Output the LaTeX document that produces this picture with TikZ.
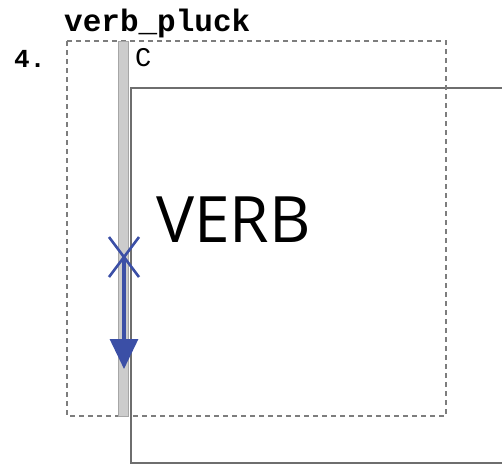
\documentclass[tikz,border=0pt]{standalone}
\usepackage{fontspec}
\setmainfont{Liberation Serif}
\newfontfamily\labelmono{Liberation Mono}
\newfontfamily\verbsans{Open Sans}
\usetikzlibrary{arrows.meta}
\definecolor{traceblue}{HTML}{3B4FA6}
\definecolor{framegray}{HTML}{6E6E6E}
\tikzset{
  regionbox/.style={draw=framegray!90, line width=1.8pt, dash pattern=on 5pt off 4pt},
  verbbox/.style={draw=framegray, line width=1.8pt},
  tracebar/.style={fill=black!20, draw=black!35, line width=0.8pt},
  tracemark/.style={draw=traceblue, line width=2.6pt},
  movearrow/.style={draw=traceblue, line width=3.2pt, -{Triangle[length=30pt,width=28pt]}},
  monolabel/.style={inner sep=0pt, font=\labelmono\bfseries},
}
\begin{document}
\begin{tikzpicture}[x=1pt,y=-1pt]
  \useasboundingbox (0,0) rectangle (502,466);
  \clip (0,0) rectangle (502,466);
  % verb phrase box running off the right edge
  \draw[verbbox] (520,88) -- (131,88) -- (131,463) -- (520,463);
  % region of the pluck operation
  \draw[regionbox] (67,41) rectangle (446,416);
  % shaded trace column
  \fill[tracebar] (118,41) rectangle (128,416);
  % labels
  \node[monolabel, font=\labelmono\bfseries\fontsize{31}{31}\selectfont, anchor=base west] (title) at (64,31) {verb\_pluck};
  \node[monolabel, font=\labelmono\bfseries\fontsize{26}{26}\selectfont, anchor=base west] (num) at (14,67) {4.};
  \node[inner sep=0pt, font=\labelmono\fontsize{27}{27}\selectfont, anchor=base west] (cat) at (135,66) {C};
  \node[inner sep=0pt, font=\verbsans\fontsize{64}{64}\selectfont, anchor=base west] (verb) at (156,242) {VERB};
  % crossed-out origin and downward movement
  \coordinate (orig) at (124,257);
  \coordinate (land) at (124,369);
  \draw[tracemark] (109,237) -- (139,277);
  \draw[tracemark] (139,237) -- (109,277);
  \draw[movearrow] (orig) -- (land);
\end{tikzpicture}
\end{document}
